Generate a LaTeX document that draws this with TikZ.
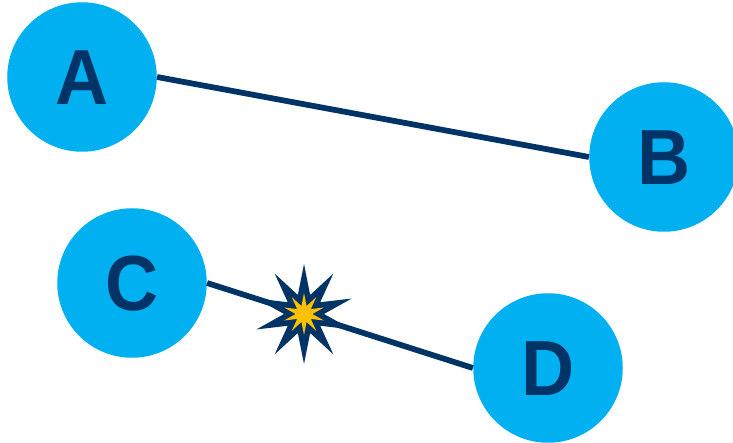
\documentclass[tikz,border=0pt]{standalone}
\usepackage{fontspec}
\setmainfont{Liberation Sans}
\newfontfamily\hostfont[FakeStretch=0.94]{Liberation Sans}
\usepackage{tikz}
\usetikzlibrary{shapes.geometric}
\definecolor{nodeblue}{HTML}{00B0F0}
\definecolor{linknavy}{HTML}{003366}
\definecolor{hityellow}{HTML}{FFC000}
\tikzset{
host/.style={circle,
  fill=nodeblue,
  text=linknavy,
  inner sep=0,
  minimum size=2.99cm,
  text height=1.12cm,
  text depth=0cm,
  font=\hostfont\fontsize{44.5}{44.5}\selectfont\bfseries},
link/.style={draw=linknavy,
  line width=0.115cm},
hit/.style={star,
  star points=10,
  star point ratio=2.5,
  inner sep=0},
}

\begin{document}
\begin{tikzpicture}
  \useasboundingbox (0,0) rectangle (14.66,8.86);

  % Nodes
  \node [host] (a) at (1.64,7.32) {A};
  \node [host] (b) at (13.28,5.72) {B};
  \node [host] (c) at (2.64,3.20) {C};
  \node [host] (d) at (10.96,1.50) {D};

  % Links
  \draw [link] (a.east) -- (b.west);
  \draw [link] (c.east) -- (d.west);

  % Collision on the lower link
  \node [hit, fill=linknavy, minimum size=2cm] (burst) at (6.08,2.58) {};
  \node [hit, fill=hityellow, minimum size=0.84cm] (core) at (burst) {};
\end{tikzpicture}
\end{document}
